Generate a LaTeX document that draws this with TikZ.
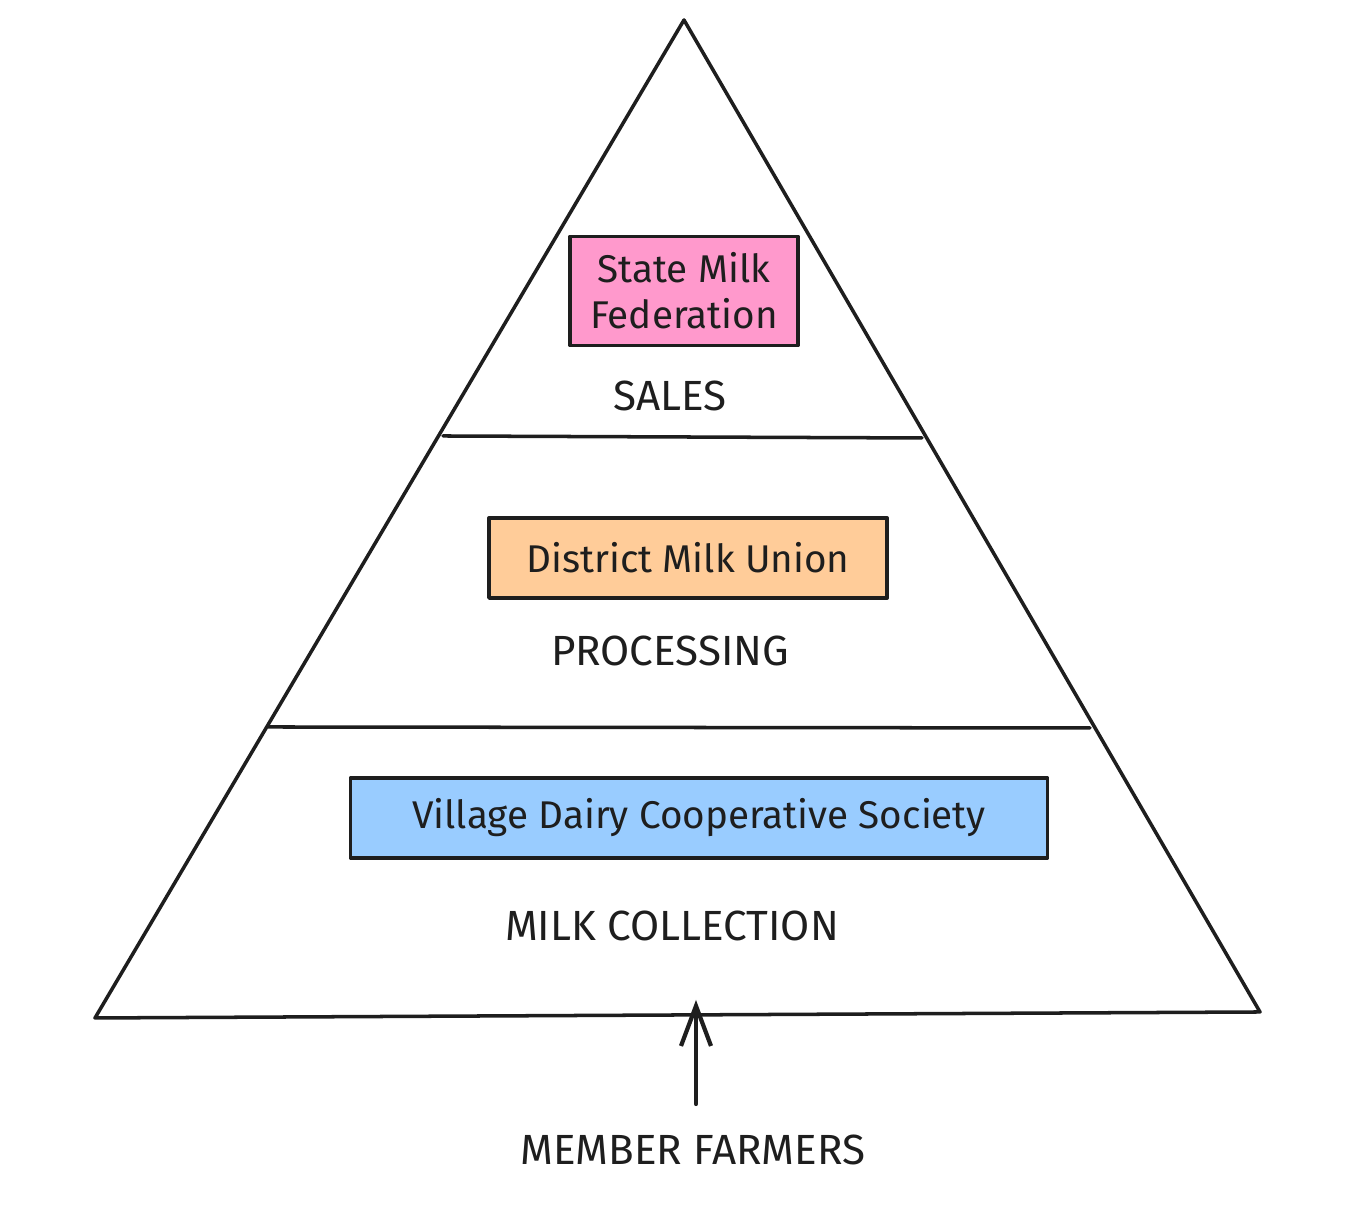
\documentclass[tikz,border=0pt]{standalone}
\usepackage{fontspec}
\setmainfont{Fira Sans}
\usetikzlibrary{arrows.meta}
\definecolor{ink}{HTML}{1E1E1E}
\definecolor{salespink}{HTML}{FF99CC}
\definecolor{unionorange}{HTML}{FFCC99}
\definecolor{villageblue}{HTML}{99CCFF}
\tikzset{
  tierbox/.style={draw=ink, line width=1.1pt, minimum height=0.8cm, align=center, font=\fontsize{11}{13}\selectfont, text=ink},
  tierlabel/.style={font=\fontsize{12}{14}\selectfont, text=ink}
}
\begin{document}
\begin{tikzpicture}[line join=round, line cap=round, >=Stealth, ink, line width=1pt]
		\useasboundingbox[fill=white] (0,0) rectangle (13.7,12.22);
		% pyramid
		\draw (6.84,12.02)--(0.95,2.04)--(12.60,2.10)--cycle;
		\draw (4.43,7.86)--(9.22,7.84);
		\draw (2.68,4.95)--(10.90,4.94);
		% tiers
		\node[tierbox, fill=salespink, minimum width=2.28cm, minimum height=1.09cm] (federation) at (6.84,9.31) {State Milk\\Federation};
		\node[tierlabel] (sales) at (6.70,8.26) {SALES};
		\node[tierbox, fill=unionorange, minimum width=3.98cm] (union) at (6.88,6.64) {District Milk Union};
		\node[tierlabel] (processing) at (6.70,5.71) {PROCESSING};
		\node[tierbox, fill=villageblue, minimum width=6.97cm] (village) at (6.99,4.04) {Village Dairy Cooperative Society};
		\node[tierlabel] (collection) at (6.72,2.96) {MILK COLLECTION};
		% farmers
		\node[tierlabel] (farmers) at (6.93,0.72) {MEMBER FARMERS};
		\coordinate (farmtail) at (6.96,1.18);
		\coordinate (farmhead) at (6.96,2.22);
		\draw[-{Straight Barb[length=4mm,width=3mm]}, line width=1.2pt] (farmtail)--(farmhead);
	\end{tikzpicture}
\end{document}
